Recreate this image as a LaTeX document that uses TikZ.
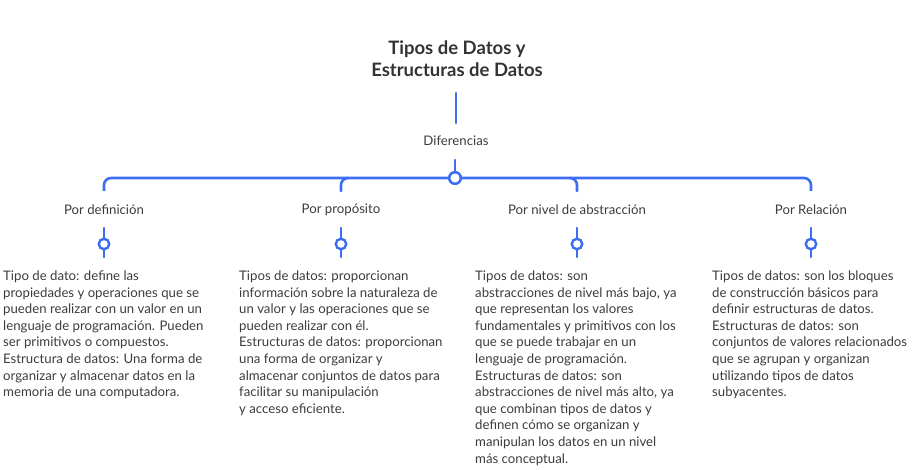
\documentclass[tikz,border=0pt]{standalone}
\usepackage{fontspec}
\setmainfont{Lato}
\definecolor{blu}{HTML}{3D6DF2}
\definecolor{txt}{HTML}{3C3C3C}
\definecolor{ttl}{HTML}{333333}
\tikzset{
  conn/.style={draw=blu, line width=2.6pt, line cap=round},
  ring/.style={circle, draw=blu, line width=2.4pt, fill=white, minimum size=10.5pt, inner sep=0pt},
  hubring/.style={ring, minimum size=11.5pt},
  ttlnode/.style={align=center, text=ttl, font=\bfseries\fontsize{18.5}{22}\selectfont, inner sep=0pt},
  lab/.style={text=txt, font=\fontsize{13.2}{15}\selectfont, inner sep=0pt},
  body/.style={anchor=north west, align=left, text=txt, font=\fontsize{13.2}{16.6}\selectfont, inner sep=0pt},
}
\begin{document}
\begin{tikzpicture}[x=1pt,y=-1pt]
\useasboundingbox (0,0) rectangle (914,470);
\node[ttlnode] (t) at (457,58.5) {Tipos de Datos y\\Estructuras de Datos};
\node[lab] (dif) at (456,141) {Diferencias};
\coordinate (t1) at (456,93);
\coordinate (t2) at (456,123);
\draw[conn] (t1) -- (t2);
\node[hubring] (h) at (455,178) {};
\coordinate (d1) at (455,160);
\draw[conn] (d1) -- (h.north);
% labels
\node[lab] (l1) at (104,210) {Por definición};
\node[lab] (l2) at (341,210) {Por propósito};
\node[lab] (l3) at (577,210) {Por nivel de abstracción};
\node[lab] (l4) at (811,210) {Por Relación};
\coordinate (k1) at (104,191);
\coordinate (k2) at (341,191);
\coordinate (k3) at (577,191);
\coordinate (k4) at (811,191);
\draw[conn, rounded corners=7pt, line cap=butt] (h.west) -- (104,178) -- (k1);
\draw[conn, rounded corners=7pt, line cap=butt] (h.east) -- (811,178) -- (k4);
\draw[conn, rounded corners=7pt] (h.west -| 348,0) -- (341,178) -- (k2);
\draw[conn, rounded corners=7pt] (h.east -| 570,0) -- (577,178) -- (k3);
\draw[conn, line cap=butt] (h.west) -- (h.east);
\node[hubring] at (h) {};
% child rings
\foreach \i/\x in {1/104,2/341,3/577,4/811}{
  \coordinate (a\i) at (\x,228);
  \coordinate (b\i) at (\x,257);
  \draw[conn] (a\i) -- (b\i);
  \node[ring] (c\i) at (\x,244) {};
}
\node[body] (p1) at (3,270.5) {Tipo de dato: define las\\propiedades y operaciones que se\\pueden realizar con un valor en un\\lenguaje de programación. Pueden\\ser primitivos o compuestos.\\Estructura de datos: Una forma de\\organizar y almacenar datos en la\\memoria de una computadora.};
\node[body] (p2) at (239,270.5) {Tipos de datos: proporcionan\\información sobre la naturaleza de\\un valor y las operaciones que se\\pueden realizar con él.\\Estructuras de datos: proporcionan\\una forma de organizar y\\almacenar conjuntos de datos para\\facilitar su manipulación\\y acceso eficiente.};
\node[body] (p3) at (475,270.5) {Tipos de datos: son\\abstracciones de nivel más bajo, ya\\que representan los valores\\fundamentales y primitivos con los\\que se puede trabajar en un\\lenguaje de programación.\\Estructuras de datos: son\\abstracciones de nivel más alto, ya\\que combinan tipos de datos y\\definen cómo se organizan y\\manipulan los datos en un nivel\\más conceptual.};
\node[body] (p4) at (712,270.5) {Tipos de datos: son los bloques\\de construcción básicos para\\definir estructuras de datos.\\Estructuras de datos: son\\conjuntos de valores relacionados\\que se agrupan y organizan\\utilizando tipos de datos\\subyacentes.};
\end{tikzpicture}
\end{document}
